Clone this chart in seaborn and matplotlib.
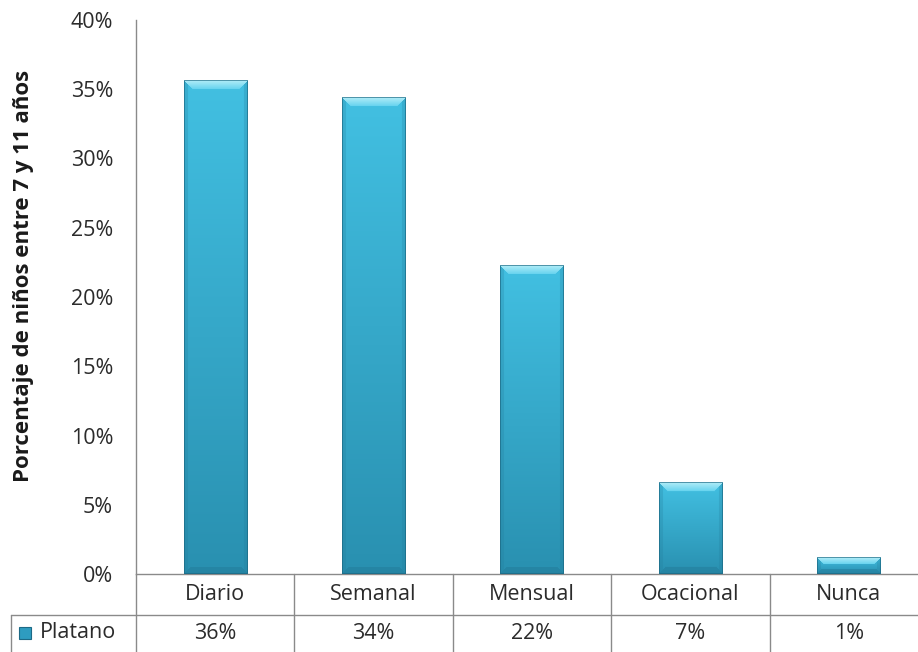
import numpy as np
import pandas as pd
import matplotlib
matplotlib.use("Agg")
import matplotlib.pyplot as plt
import seaborn as sns
from matplotlib.patches import Rectangle
from matplotlib.transforms import blended_transform_factory

# Frequency of banana consumption among children aged 7-11
categories = ["Diario", "Semanal", "Mensual", "Ocacional", "Nunca"]
platano = [35.6, 34.4, 22.3, 6.6, 1.2]
series_name = "Platano"
y_ticks = [0, 5, 10, 15, 20, 25, 30, 35, 40]
y_label = "Porcentaje de niños entre 7 y 11 años"

sns.set_style("white")
plt.rcParams["font.family"] = ["Open Sans", "DejaVu Sans"]

TEXT = "#2b2b2b"
GRID = "#8a8a8a"
FS = 15.5

W, H = 918, 652
fig = plt.figure(figsize=(W / 100, H / 100), dpi=100)
ax = fig.add_axes([136 / W, 78 / H, 792 / W, 554 / H])

df = pd.DataFrame({"freq": categories, "pct": platano})
sns.barplot(data=df, x="freq", y="pct", color="#33acd0", saturation=1,
            width=0.4, ax=ax, zorder=2, edgecolor="none")
ax.set_xlim(-0.5, len(categories) - 0.5)
ax.set_ylim(0, 40)


def bar_shading(w, h, bevel=9):
    """Beveled, vertically graded fill for one bar (h x w x 3)."""
    top = np.array([0x42, 0xc0, 0xe2]) / 255
    bot = np.array([0x29, 0x90, 0xb0]) / 255
    hi_out = np.array([0xb0, 0xec, 0xf8]) / 255
    hi_in = np.array([0x62, 0xd2, 0xee]) / 255
    lo = np.array([0x22, 0x7a, 0x98]) / 255
    edge = np.array([0x1b, 0x66, 0x80]) / 255
    r = np.arange(h)[:, None]
    c = np.arange(w)[None, :]
    t = (r / max(h - 1, 1))[..., None]
    img = np.broadcast_to(top * (1 - t) + bot * t, (h, w, 3)).copy()
    dl, dr = c + 0 * r, (w - 1 - c) + 0 * r
    dt, db = r + 0 * c, (h - 1 - r) + 0 * c
    bv = min(bevel, max(h // 2 - 1, 2))
    m_top = (dt < bv) & (dt <= dl) & (dt <= dr)
    m_bot = (db < bv * 0.7) & (db <= dl) & (db <= dr) & ~m_top
    dside = np.minimum(dl, dr)
    m_side = (dside < 4) & (dside < dt) & (dside < db)
    s = (dt / bv)[..., None]
    img[m_top] = (hi_out * (1 - s) + hi_in * s)[m_top]
    img[m_bot] = (img * 0.5 + lo * 0.5)[m_bot]
    img[m_side] = (img * 0.75 + lo * 0.25)[m_side]
    outline = np.minimum(dside, np.minimum(dt, db)) < 1
    img[outline] = (img * 0.35 + edge * 0.65)[outline]
    return img


fig.canvas.draw()
for p in list(ax.patches):
    x0, y0 = p.get_x(), p.get_y()
    x1, y1 = x0 + p.get_width(), y0 + p.get_height()
    (px0, py0), (px1, py1) = ax.transData.transform([(x0, y0), (x1, y1)])
    wpx, hpx = max(int(round(px1 - px0)), 2), max(int(round(py1 - py0)), 2)
    ax.imshow(bar_shading(wpx, hpx), extent=(x0, x1, y0, y1), aspect="auto",
              interpolation="bilinear", zorder=3)
ax.set_xlim(-0.5, len(categories) - 0.5)
ax.set_ylim(0, 40)

# Axes styling
for side in ("top", "right"):
    ax.spines[side].set_visible(False)
for side in ("left", "bottom"):
    ax.spines[side].set_color(GRID)
    ax.spines[side].set_linewidth(1)
ax.set_yticks(y_ticks)
ax.set_yticklabels([f"{v}%" for v in y_ticks])
ax.tick_params(axis="y", length=0, pad=16.5, labelsize=FS, labelcolor=TEXT)
ax.set_xticks([])
ax.set_xlabel("")
ax.set_ylabel("")

# Data table under the plot
row1 = -20.5 / 554
row2 = -59.5 / 554
mid = -41 / 554
low = -80 / 554
bt = blended_transform_factory(ax.transData, ax.transAxes)
for i, (cat, val) in enumerate(zip(categories, platano)):
    ax.text(i, row1, cat, transform=bt, ha="center", va="center",
            fontsize=FS, color=TEXT, clip_on=False)
    ax.text(i, row2, f"{val:.0f}%", transform=bt, ha="center", va="center",
            fontsize=FS, color=TEXT, clip_on=False)
for b in np.arange(0.5, len(categories) - 0.5, 1.0):
    ax.plot([b, b], [0, low], transform=bt, color=GRID, lw=1, clip_on=False)
left_tab = (11 - 136) / 792
ax.plot([0, 0], [0, low], transform=ax.transAxes, color=GRID, lw=1, clip_on=False)
ax.plot([left_tab, 1.0], [mid, mid], transform=ax.transAxes, color=GRID, lw=1, clip_on=False)
ax.plot([left_tab, left_tab], [mid, low], transform=ax.transAxes, color=GRID, lw=1, clip_on=False)

# Legend key and series name in the table row
fig.patches.append(Rectangle((19 / W, (H - 639) / H), 12 / W, 12 / H,
                             transform=fig.transFigure, facecolor="#2e9cc0",
                             edgecolor="#1d6a86", lw=0.8))
fig.text(40 / W, (H - 633) / H, series_name, ha="left", va="center",
         fontsize=FS, color=TEXT)

fig.text(24 / W, (H - 276) / H, y_label, rotation=90, ha="center", va="center",
         fontsize=16, fontweight="bold", color="#1a1a1a")

fig.savefig("out.png", dpi=100)
